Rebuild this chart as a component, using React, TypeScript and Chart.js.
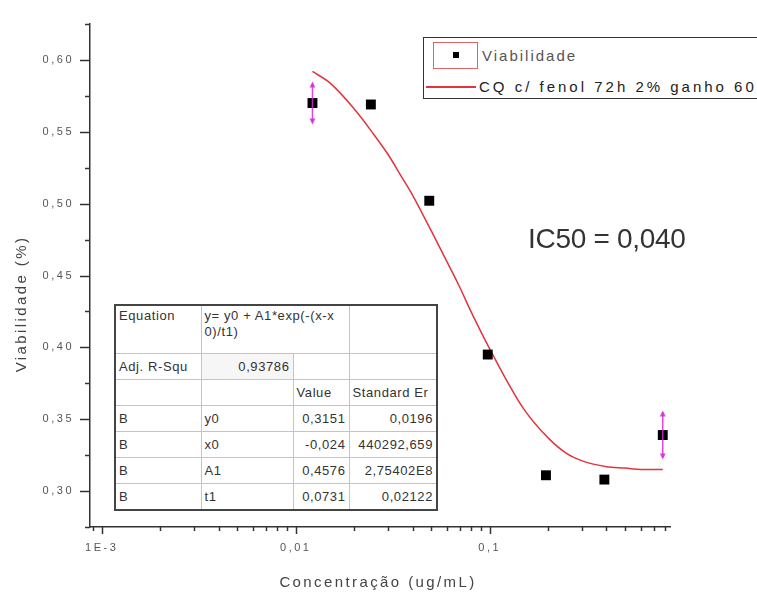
import React, { useEffect, useRef } from "react";
import { Chart, registerables } from "chart.js";

Chart.register(...registerables);

// ---- data ----
const concentrations = [0.0122, 0.0244, 0.0488, 0.0977, 0.195, 0.39, 0.78];
const viability = [0.570, 0.569, 0.502, 0.395, 0.311, 0.308, 0.339];
const viabilityErr = [0.015, 0, 0, 0, 0, 0, 0.017];

const fitX = [0.0122, 0.015, 0.02, 0.025, 0.03, 0.035, 0.04, 0.05, 0.06, 0.07, 0.08, 0.09, 0.1, 0.12, 0.15, 0.2, 0.25, 0.3, 0.4, 0.5, 0.6, 0.78];
const fitY = [0.592, 0.584, 0.566, 0.549, 0.534, 0.519, 0.506, 0.481, 0.46, 0.442, 0.425, 0.411, 0.399, 0.379, 0.357, 0.337, 0.326, 0.321, 0.317, 0.316, 0.315, 0.315];

const yMajorTicks = [0.3, 0.35, 0.4, 0.45, 0.5, 0.55, 0.6];
const yMinorTicks = [0.275, 0.325, 0.375, 0.425, 0.475, 0.525, 0.575, 0.625];
const xMajorTicks = [0.001, 0.01, 0.1];
const xMajorLabels = ["1E-3", "0,01", "0,1"];
const xMinorTicks = [0.0009, 0.002, 0.003, 0.004, 0.005, 0.006, 0.007, 0.008, 0.009, 0.02, 0.03, 0.04, 0.05, 0.06, 0.07, 0.08, 0.09, 0.2, 0.3, 0.4, 0.5, 0.6, 0.7, 0.8];

const seriesPointsName = "Viabilidade";
const seriesFitName = "CQ c/ fenol 72h 2% ganho 60";
const xTitle = "Concentração (ug/mL)";
const yTitle = "Viabilidade (%)";
const ic50Text = "IC50 = 0,040";

const tableEquation = ["y= y0 + A1*exp(-(x-x", "0)/t1)"];
const tableAdjR = ["Adj. R-Squ", "0,93786"];
const tableHeader = ["Value", "Standard Er"];
const tableParams = ["y0", "x0", "A1", "t1"];
const tableValues = ["0,3151", "-0,024", "0,4576", "0,0731"];
const tableErrors = ["0,0196", "440292,659", "2,75402E8", "0,02122"];

const AXIS = "#333333";
const RED = "#e2343c";
const MAGENTA = "rgba(214, 40, 226, 0.85)";

const overlayPlugin = {
  id: "overlay",
  beforeDraw(chart: any) {
    (chart.ctx as any).letterSpacing = "2.5px";
  },
  afterDatasetsDraw(chart: any) {
    const ctx = chart.ctx;
    const xs = chart.scales.x;
    const ys = chart.scales.y;
    ctx.save();
    (ctx as any).letterSpacing = "0px";
    ctx.strokeStyle = MAGENTA;
    ctx.fillStyle = MAGENTA;
    ctx.lineWidth = 1.5;
    concentrations.forEach((c, i) => {
      const e = viabilityErr[i];
      if (!e) return;
      const px = xs.getPixelForValue(c);
      const top = ys.getPixelForValue(viability[i] + e);
      const bot = ys.getPixelForValue(viability[i] - e);
      ctx.beginPath();
      ctx.moveTo(px, top + 2);
      ctx.lineTo(px, bot - 2);
      ctx.stroke();
      ctx.beginPath();
      ctx.moveTo(px, top);
      ctx.lineTo(px - 3, top + 6);
      ctx.lineTo(px + 3, top + 6);
      ctx.closePath();
      ctx.fill();
      ctx.beginPath();
      ctx.moveTo(px, bot);
      ctx.lineTo(px - 3, bot - 6);
      ctx.lineTo(px + 3, bot - 6);
      ctx.closePath();
      ctx.fill();
    });
    ctx.restore();
  },
  afterDraw(chart: any) {
    const ctx = chart.ctx;
    const xs = chart.scales.x;
    const ys = chart.scales.y;
    const area = chart.chartArea;
    ctx.save();
    (ctx as any).letterSpacing = "0px";
    ctx.strokeStyle = AXIS;
    ctx.lineWidth = 1.5;
    yMajorTicks.forEach((v) => {
      const py = Math.round(ys.getPixelForValue(v)) + 0.5;
      ctx.beginPath();
      ctx.moveTo(area.left - 10, py);
      ctx.lineTo(area.left, py);
      ctx.stroke();
    });
    yMinorTicks.forEach((v) => {
      const py = Math.round(ys.getPixelForValue(v)) + 0.5;
      ctx.beginPath();
      ctx.moveTo(area.left - 5, py);
      ctx.lineTo(area.left, py);
      ctx.stroke();
    });
    xMajorTicks.forEach((v) => {
      const px = Math.round(xs.getPixelForValue(v)) + 0.5;
      ctx.beginPath();
      ctx.moveTo(px, area.bottom);
      ctx.lineTo(px, area.bottom + 7);
      ctx.stroke();
    });
    xMinorTicks.forEach((v) => {
      const px = Math.round(xs.getPixelForValue(v)) + 0.5;
      ctx.beginPath();
      ctx.moveTo(px, area.bottom);
      ctx.lineTo(px, area.bottom + 4);
      ctx.stroke();
    });
    ctx.fillStyle = "#444444";
    ctx.font = "15px 'Liberation Sans', Arial, sans-serif";
    (ctx as any).letterSpacing = "2.4px";
    ctx.textAlign = "center";
    ctx.textBaseline = "middle";
    ctx.fillText(xTitle, (area.left + area.right) / 2 - 2, area.bottom + 56);
    ctx.translate(22, area.top + 280);
    ctx.rotate(-Math.PI / 2);
    ctx.fillText(yTitle, 0, 0);
    ctx.restore();
    ctx.save();
    ctx.fillStyle = "#333333";
    ctx.font = "28px 'Liberation Sans', Arial, sans-serif";
    (ctx as any).letterSpacing = "-0.3px";
    ctx.textAlign = "left";
    ctx.textBaseline = "alphabetic";
    ctx.fillText(ic50Text, area.left + 438, area.top + 224);
    ctx.restore();
  },
};

export default function App() {
  const canvasRef = useRef<HTMLCanvasElement | null>(null);

  useEffect(() => {
    document.body.style.margin = "0";
    const canvas = canvasRef.current;
    if (!canvas) return;
    const chart = new Chart(canvas, {
      type: "scatter",
      data: {
        datasets: [
          {
            label: seriesPointsName,
            data: concentrations.map((c, i) => ({ x: c, y: viability[i] })),
            pointStyle: "rect",
            pointRadius: 7,
            pointBorderWidth: 0,
            backgroundColor: "#000000",
            borderColor: "#000000",
            showLine: false,
          },
          {
            label: seriesFitName,
            data: fitX.map((x, i) => ({ x, y: fitY[i] })),
            showLine: true,
            pointRadius: 0,
            borderColor: RED,
            borderWidth: 1.5,
            cubicInterpolationMode: "monotone",
            fill: false,
          },
        ],
      },
      options: {
        responsive: false,
        animation: false,
        devicePixelRatio: 1,
        layout: { padding: { top: 24, right: 87, left: 0, bottom: 0 } },
        plugins: {
          legend: { display: false },
          tooltip: { enabled: false },
        },
        scales: {
          x: {
            type: "logarithmic",
            min: 0.00087,
            max: 0.85,
            afterBuildTicks: (scale: any) => {
              scale.ticks = xMajorTicks.map((v) => ({ value: v, major: true }));
            },
            afterFit: (scale: any) => {
              scale.height = 66;
            },
            ticks: {
              autoSkip: false,
              maxRotation: 0,
              padding: 14,
              color: "#555555",
              font: { family: "'Liberation Sans', Arial, sans-serif", size: 11 },
              callback: (value: any) => {
                const idx = xMajorTicks.findIndex((t) => Math.abs(t - Number(value)) < 1e-9);
                return idx >= 0 ? xMajorLabels[idx] : "";
              },
            },
            grid: { display: false, drawTicks: false },
            border: { display: true, color: AXIS, width: 1.5 },
          },
          y: {
            type: "linear",
            min: 0.275,
            max: 0.625,
            afterBuildTicks: (scale: any) => {
              scale.ticks = yMajorTicks.map((v) => ({ value: v }));
            },
            afterFit: (scale: any) => {
              scale.width = 90;
            },
            ticks: {
              padding: 16,
              color: "#555555",
              font: { family: "'Liberation Sans', Arial, sans-serif", size: 11 },
              callback: (value: any) => Number(value).toFixed(2).replace(".", ","),
            },
            grid: { display: false, drawTicks: false },
            border: { display: true, color: AXIS, width: 1.5 },
          },
        },
      },
      plugins: [overlayPlugin],
    } as any);
    return () => chart.destroy();
  }, []);

  const cell: React.CSSProperties = {
    border: "1px solid #c4c4c4",
    padding: "0 3px",
    whiteSpace: "nowrap",
    overflow: "hidden",
    height: 25,
    verticalAlign: "middle",
  };
  const right: React.CSSProperties = { ...cell, textAlign: "right" };

  return (
    <div style={{ position: "fixed", left: 0, top: 0, width: 757, height: 593, overflow: "hidden", background: "#fff" }}>
      <canvas ref={canvasRef} width={757} height={593} style={{ position: "absolute", left: 0, top: 0 }} />
      <div
        style={{
          position: "absolute",
          left: 423,
          top: 37,
          width: 360,
          height: 62,
          border: "1.5px solid #333",
          boxSizing: "border-box",
          background: "#fff",
          fontFamily: "'Liberation Sans', Arial, sans-serif",
        }}
      >
        <div
          style={{
            position: "absolute",
            left: 9,
            top: 4,
            width: 45,
            height: 27,
            border: "1.5px solid #e06464",
            boxSizing: "border-box",
          }}
        >
          <div style={{ position: "absolute", left: 19, top: 9, width: 6, height: 6, background: "#000" }} />
        </div>
        <div style={{ position: "absolute", left: 58, top: 9, fontSize: 15, letterSpacing: 2, color: "#555", lineHeight: "17px" }}>
          {seriesPointsName}
        </div>
        <div style={{ position: "absolute", left: 2, top: 48, width: 50, height: 1.5, background: RED }} />
        <div style={{ position: "absolute", left: 55, top: 40, fontSize: 15, letterSpacing: 3, color: "#222", lineHeight: "17px", whiteSpace: "nowrap" }}>
          {seriesFitName}
        </div>
      </div>
      <table
        style={{
          position: "absolute",
          left: 114,
          top: 304,
          width: 322,
          borderCollapse: "collapse",
          tableLayout: "fixed",
          border: "2px solid #444",
          background: "#fff",
          fontFamily: "'Liberation Sans', Arial, sans-serif",
          fontSize: 13,
          letterSpacing: 0.6,
          color: "#333",
        }}
      >
        <colgroup>
          <col style={{ width: 86 }} />
          <col style={{ width: 92 }} />
          <col style={{ width: 56 }} />
          <col style={{ width: 88 }} />
        </colgroup>
        <tbody>
          <tr>
            <td style={{ ...cell, height: 45, verticalAlign: "top", paddingTop: 2 }}>Equation</td>
            <td colSpan={2} style={{ ...cell, height: 45, verticalAlign: "top", paddingTop: 2, lineHeight: "16px" }}>
              {tableEquation[0]}
              <br />
              {tableEquation[1]}
            </td>
            <td style={cell}></td>
          </tr>
          <tr>
            <td style={cell}>{tableAdjR[0]}</td>
            <td style={{ ...right, background: "#f6f6f6" }}>{tableAdjR[1]}</td>
            <td style={cell}></td>
            <td style={cell}></td>
          </tr>
          <tr>
            <td style={cell}></td>
            <td style={cell}></td>
            <td style={cell}>{tableHeader[0]}</td>
            <td style={cell}>{tableHeader[1]}</td>
          </tr>
          {tableParams.map((p, i) => (
            <tr key={p}>
              <td style={cell}>B</td>
              <td style={cell}>{p}</td>
              <td style={right}>{tableValues[i]}</td>
              <td style={right}>{tableErrors[i]}</td>
            </tr>
          ))}
        </tbody>
      </table>
    </div>
  );
}
